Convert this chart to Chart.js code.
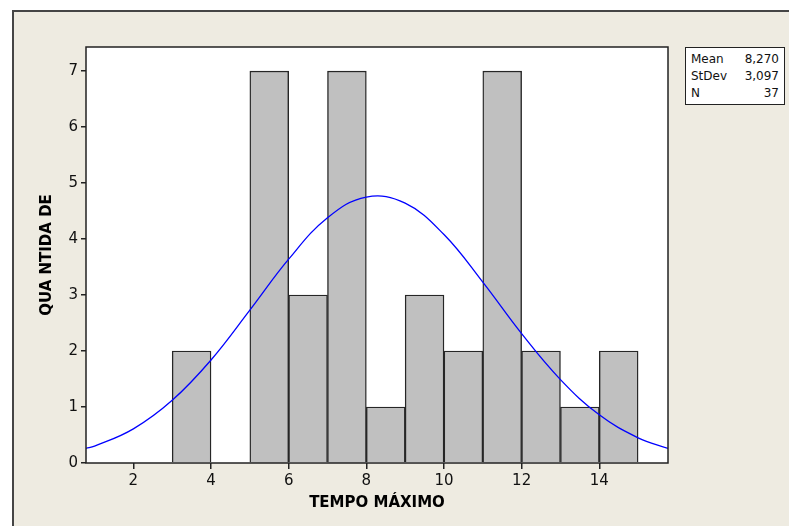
<!DOCTYPE html>
<html>
<head>
<meta charset="utf-8">
<title>Histograma TEMPO MÁXIMO</title>
<script src="https://cdn.jsdelivr.net/npm/chart.js@4/dist/chart.umd.min.js"></script>
<style>
  html, body { margin: 0; padding: 0; background: #ffffff; overflow: hidden; }
  #frame {
    position: absolute; left: 12px; top: 10px; width: 800px; height: 540px;
    background: #eeebe1; border: 2px solid #454545; box-sizing: border-box;
  }
  #wrap { position: absolute; left: 0; top: 0; width: 789px; height: 526px; }
  #stats {
    position: absolute; left: 685px; top: 47px; width: 100px;
    border: 1px solid #222; background: #ffffff; box-sizing: border-box;
    font-family: "DejaVu Sans", sans-serif; font-size: 12px; color: #111;
    padding: 3px 5px 2px 5px;
  }
  #stats div { display: flex; justify-content: space-between; height: 17px; line-height: 17px; }
</style>
</head>
<body>
<div id="frame"></div>
<div id="wrap"><canvas id="histChart" width="789" height="526"></canvas></div>
<div id="stats"></div>

<script>
// dados do histograma (classes de largura 1)
const binCenters = [3.5, 4.5, 5.5, 6.5, 7.5, 8.5, 9.5, 10.5, 11.5, 12.5, 13.5, 14.5];
const binCounts  = [2, 0, 7, 3, 7, 1, 3, 2, 7, 2, 1, 2];

// curva normal
const curveX = [0.78, 1, 2, 3, 4, 5, 6, 7, 8, 9, 10, 11, 12, 13, 14, 15, 15.77];
const curveY = [0.26, 0.30, 0.61, 1.12, 1.84, 2.73, 3.64, 4.38, 4.75, 4.64, 4.08, 3.23, 2.31, 1.49, 0.86, 0.45, 0.26];

const xTicks = [2, 4, 6, 8, 10, 12, 14];
const yTicks = [0, 1, 2, 3, 4, 5, 6, 7];

const statLabels = ['Mean', 'StDev', 'N'];
const statValues = ['8,270', '3,097', '37'];

// caixa de estatisticas
const statsBox = document.getElementById('stats');
statLabels.forEach((lab, i) => {
    const row = document.createElement('div');
    row.innerHTML = '<span>' + lab + '</span><span>' + statValues[i] + '</span>';
    statsBox.appendChild(row);
});

// fundo branco + moldura da area do grafico
const plotFrame = {
    id: 'plotFrame',
    beforeDraw(chart) {
        const a = chart.chartArea, ctx = chart.ctx;
        ctx.save();
        ctx.fillStyle = '#ffffff';
        ctx.fillRect(a.left, a.top, a.right - a.left, a.bottom - a.top);
        ctx.restore();
    },
    afterDraw(chart) {
        const a = chart.chartArea, ctx = chart.ctx;
        ctx.save();
        ctx.strokeStyle = '#222';
        ctx.lineWidth = 1.5;
        ctx.strokeRect(a.left, a.top, a.right - a.left, a.bottom - a.top);
        ctx.restore();
    }
};

const tickFont = { family: "'DejaVu Sans', sans-serif", size: 15 };
const titleFont = { family: "'DejaVu Sans', sans-serif", size: 15, weight: 'bold' };

new Chart(document.getElementById('histChart'), {
    type: 'bar',
    data: {
        datasets: [
            {
                type: 'line',
                data: curveX.map((x, i) => ({ x: x, y: curveY[i] })),
                borderColor: '#0000ff',
                borderWidth: 1.3,
                pointRadius: 0,
                tension: 0.4,
                fill: false,
                order: 0
            },
            {
                type: 'bar',
                data: binCenters.map((x, i) => ({ x: x, y: binCounts[i] })),
                backgroundColor: '#c0c0c0',
                borderColor: '#262626',
                borderWidth: 1.4,
                barPercentage: 1,
                categoryPercentage: 1,
                order: 1
            }
        ]
    },
    options: {
        responsive: false,
        animation: false,
        layout: { padding: { left: 0, top: 47, right: 121, bottom: 0 } },
        plugins: { legend: { display: false }, tooltip: { enabled: false } },
        scales: {
            x: {
                type: 'linear', min: 0.78, max: 15.77, offset: false,
                grid: { offset: false, drawOnChartArea: false, drawTicks: true, tickLength: 6, color: '#222', lineWidth: 1.5 },
                border: { display: false },
                afterBuildTicks: (s) => { s.ticks = xTicks.map(v => ({ value: v })); },
                afterFit: (s) => { s.height = 63; },
                ticks: { font: tickFont, color: '#111', padding: 3, maxRotation: 0 },
                title: { display: true, text: 'TEMPO MÁXIMO', font: titleFont, color: '#000', padding: { top: 0, bottom: 14 } }
            },
            y: {
                min: 0, max: 7.43,
                grid: { drawOnChartArea: false, drawTicks: true, tickLength: 5, color: '#222', lineWidth: 1.5 },
                border: { display: false },
                afterBuildTicks: (s) => { s.ticks = yTicks.map(v => ({ value: v })); },
                afterFit: (s) => { s.width = 86; },
                ticks: { font: tickFont, color: '#111', padding: 3 },
                title: { display: true, text: 'QUA NTIDA DE', font: titleFont, color: '#000', padding: { top: 38, bottom: 0 } }
            }
        }
    },
    plugins: [plotFrame]
});
</script>
</body>
</html>
